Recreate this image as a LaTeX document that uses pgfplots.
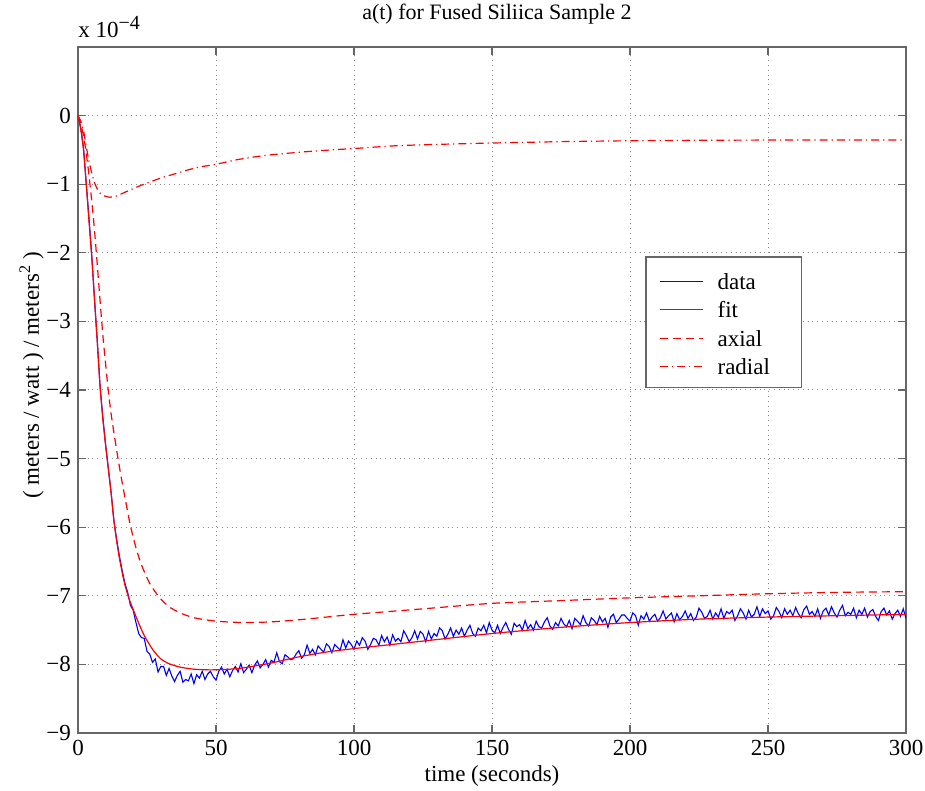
\documentclass[border=0pt]{standalone}
\usepackage{fontspec}
\setmainfont{Liberation Serif}
\usepackage{pgfplots}
\pgfplotsset{compat=1.18}
\usetikzlibrary{calc}
\definecolor{lineblue}{RGB}{0,0,255}
\definecolor{linered}{RGB}{255,0,0}
\begin{document}
\begin{tikzpicture}
\begin{axis}[
  scale only axis, width=414pt, height=343pt,
  xmin=0, xmax=300, ymin=-9, ymax=1,
  xtick={0,50,...,300}, ytick={-9,-8,...,0},
  yticklabels={−9,−8,−7,−6,−5,−4,−3,−2,−1,0},
  tick label style={font=\fontsize{11.5}{13}\selectfont},
  /pgf/number format/assume math mode=true,
  tick align=inside, major tick length=4pt,
  axis line style={black!60, line width=0.6pt},
  every tick/.style={black!60, line width=0.6pt},
  grid=major, grid style={dotted, black!45, line width=0.5pt},
  title={a(t) for Fused Siliica Sample 2},
  title style={font=\fontsize{11}{13}\selectfont, yshift=2pt, xshift=2.5pt},
  xlabel={time (seconds)},
  ylabel={( meters / watt ) / meters\textsuperscript{2} )},
  label style={font=\fontsize{11.5}{13}\selectfont},
  xlabel style={yshift=2pt},
  ylabel style={yshift=-5.5pt, xshift=7.5pt},
]
\coordinate (sw) at (rel axis cs:0,0);
\addplot[lineblue, line width=0.55pt] coordinates {
(0,0)(1,-0.18)(2,-0.47)(3,-1.0)(4,-1.5)(5,-2.05)(6,-2.7)(7,-3.3)(8,-3.95)(9,-4.4)
(10,-4.8)(11,-5.15)(12,-5.5)(13,-5.9)(14,-6.18)(15,-6.42)(16,-6.63)(17,-6.82)
(18,-6.95)(19,-7.14)(20,-7.21)(21,-7.39)(22,-7.55)(23,-7.61)(24,-7.62)(25,-7.81)(26,-7.85)(27,-7.97)
(28,-7.92)(29,-8.11)(30,-8.03)(31,-8.03)(32,-8.16)(33,-8.06)(34,-8.17)(35,-8.25)(36,-8.16)(37,-8.10)
(38,-8.26)(39,-8.22)(40,-8.24)(41,-8.14)(42,-8.28)(43,-8.15)(44,-8.20)(45,-8.10)(46,-8.22)(47,-8.14)
(48,-8.10)(49,-8.18)(50,-8.23)(51,-8.10)(52,-8.04)(53,-8.14)(54,-8.07)(55,-8.18)(56,-8.09)(57,-8.03)
(58,-8.11)(59,-7.99)(60,-8.12)(61,-8.07)(62,-8.01)(63,-8.12)(64,-8.01)(65,-7.95)(66,-8.05)(67,-8.00)
(68,-7.93)(69,-8.04)(70,-7.94)(71,-7.97)(72,-7.83)(73,-7.96)(74,-7.99)(75,-7.86)(76,-7.89)(77,-7.93)
(78,-7.92)(79,-7.85)(80,-7.80)(81,-7.91)(82,-7.86)(83,-7.72)(84,-7.84)(85,-7.78)(86,-7.86)(87,-7.73)
(88,-7.78)(89,-7.82)(90,-7.70)(91,-7.74)(92,-7.83)(93,-7.71)(94,-7.75)(95,-7.79)(96,-7.64)(97,-7.76)
(98,-7.66)(99,-7.71)(100,-7.78)(101,-7.66)(102,-7.72)(103,-7.61)(104,-7.66)(105,-7.78)(106,-7.71)(107,-7.62)
(108,-7.64)(109,-7.72)(110,-7.58)(111,-7.67)(112,-7.60)(113,-7.72)(114,-7.57)(115,-7.66)(116,-7.62)(117,-7.67)
(118,-7.51)(119,-7.58)(120,-7.67)(121,-7.61)(122,-7.51)(123,-7.63)(124,-7.52)(125,-7.56)(126,-7.67)(127,-7.52)
(128,-7.63)(129,-7.55)(130,-7.59)(131,-7.47)(132,-7.51)(133,-7.63)(134,-7.56)(135,-7.47)(136,-7.59)(137,-7.50)
(138,-7.56)(139,-7.47)(140,-7.59)(141,-7.50)(142,-7.43)(143,-7.55)(144,-7.59)(145,-7.47)(146,-7.51)(147,-7.43)
(148,-7.54)(149,-7.39)(150,-7.50)(151,-7.54)(152,-7.43)(153,-7.55)(154,-7.46)(155,-7.39)(156,-7.49)(157,-7.56)
(158,-7.40)(159,-7.45)(160,-7.42)(161,-7.50)(162,-7.36)(163,-7.48)(164,-7.42)(165,-7.50)(166,-7.37)(167,-7.45)
(168,-7.47)(169,-7.38)(170,-7.32)(171,-7.44)(172,-7.49)(173,-7.39)(174,-7.44)(175,-7.33)(176,-7.41)(177,-7.45)
(178,-7.36)(179,-7.48)(180,-7.33)(181,-7.37)(182,-7.42)(183,-7.29)(184,-7.39)(185,-7.44)(186,-7.32)(187,-7.36)
(188,-7.42)(189,-7.30)(190,-7.38)(191,-7.33)(192,-7.46)(193,-7.31)(194,-7.27)(195,-7.39)(196,-7.34)(197,-7.28)
(198,-7.28)(199,-7.33)(200,-7.37)(201,-7.25)(202,-7.29)(203,-7.43)(204,-7.29)(205,-7.34)(206,-7.25)(207,-7.37)
(208,-7.31)(209,-7.27)(210,-7.37)(211,-7.32)(212,-7.22)(213,-7.34)(214,-7.29)(215,-7.25)(216,-7.38)(217,-7.26)
(218,-7.35)(219,-7.30)(220,-7.22)(221,-7.33)(222,-7.26)(223,-7.36)(224,-7.31)(225,-7.18)(226,-7.24)(227,-7.33)
(228,-7.30)(229,-7.21)(230,-7.34)(231,-7.25)(232,-7.31)(233,-7.19)(234,-7.33)(235,-7.23)(236,-7.26)(237,-7.21)
(238,-7.36)(239,-7.29)(240,-7.19)(241,-7.25)(242,-7.34)(243,-7.21)(244,-7.31)(245,-7.27)(246,-7.16)(247,-7.30)
(248,-7.19)(249,-7.26)(250,-7.22)(251,-7.34)(252,-7.29)(253,-7.17)(254,-7.23)(255,-7.32)(256,-7.19)(257,-7.27)
(258,-7.21)(259,-7.29)(260,-7.17)(261,-7.26)(262,-7.32)(263,-7.20)(264,-7.15)(265,-7.27)(266,-7.23)(267,-7.30)
(268,-7.19)(269,-7.33)(270,-7.22)(271,-7.18)(272,-7.28)(273,-7.16)(274,-7.25)(275,-7.31)(276,-7.21)(277,-7.14)
(278,-7.29)(279,-7.24)(280,-7.27)(281,-7.18)(282,-7.32)(283,-7.21)(284,-7.27)(285,-7.18)(286,-7.31)(287,-7.23)
(288,-7.20)(289,-7.30)(290,-7.36)(291,-7.23)(292,-7.18)(293,-7.28)(294,-7.22)(295,-7.34)(296,-7.26)(297,-7.21)
(298,-7.30)(299,-7.19)(300,-7.33)
};
\addplot[linered, line width=0.6pt, smooth, tension=0.4] coordinates {
(0,0)(1,-0.2)(2,-0.5)(3,-1.0)(4,-1.55)(5,-2.07)(6,-2.68)(7,-3.3)(8,-3.95)(9,-4.42)
(10,-4.8)(11,-5.15)(12,-5.5)(13,-5.9)(14,-6.2)(15,-6.45)(16,-6.66)(17,-6.84)(18,-6.98)(19,-7.1)
(20,-7.2)(22,-7.4)(24,-7.58)(27,-7.78)(30,-7.92)(33,-7.99)(37,-8.04)(42,-8.07)(48,-8.08)(55,-8.07)
(60,-8.05)(70,-7.98)(80,-7.89)(90,-7.82)(100,-7.77)(125,-7.66)(150,-7.55)(175,-7.46)(200,-7.39)
(225,-7.34)(250,-7.31)(275,-7.29)(300,-7.27)
};
\addplot[linered, line width=0.6pt, dash pattern=on 4pt off 2.5pt, smooth, tension=0.4] coordinates {
(0,0)(1,-0.12)(2,-0.3)(3,-0.55)(4,-0.88)(5,-1.25)(6,-1.68)(7,-2.18)(8,-2.7)(9,-3.2)
(10,-3.62)(11,-4.02)(12,-4.35)(13,-4.62)(14.5,-5.0)(16,-5.35)(17.5,-5.67)(19,-5.98)(21,-6.3)
(23,-6.55)(26,-6.82)(29.4,-7.02)(33,-7.16)(37,-7.25)(42,-7.32)(50,-7.37)(60,-7.39)(70,-7.38)
(80,-7.35)(90,-7.31)(100,-7.27)(125,-7.19)(150,-7.11)(175,-7.07)(200,-7.03)(225,-7.0)
(250,-6.97)(275,-6.95)(300,-6.94)
};
\addplot[linered, line width=0.6pt, dash pattern=on 4pt off 2pt on 0.6pt off 2pt, smooth, tension=0.4] coordinates {
(0,0)(1,-0.08)(2,-0.22)(3,-0.45)(4,-0.67)(5,-0.84)(6,-0.98)(7,-1.07)(8,-1.13)(9.5,-1.17)
(11.5,-1.19)(14,-1.17)(18,-1.1)(22,-1.03)(26,-0.97)(30,-0.91)(35,-0.85)(40,-0.79)(44,-0.75)
(50,-0.71)(58,-0.64)(68,-0.58)(80,-0.535)(90,-0.505)(100,-0.48)(115,-0.44)(130,-0.42)
(150,-0.40)(175,-0.38)(200,-0.367)(225,-0.36)(250,-0.357)(300,-0.355)
};
% legend: box and texts by hand, sample lines as short plots
\draw[black!60, line width=0.6pt, fill=white] (axis description cs:0.686,0.504) rectangle (axis description cs:0.874,0.694);
\addplot[lineblue, line width=0.55pt, forget plot] coordinates {(210.9,-2.42)(226.5,-2.42)};
\addplot[linered, line width=0.6pt, forget plot] coordinates {(210.9,-2.83)(226.5,-2.83)};
\addplot[linered, line width=0.6pt, dash pattern=on 4pt off 2.5pt, forget plot] coordinates {(210.9,-3.25)(226.5,-3.25)};
\addplot[linered, line width=0.6pt, dash pattern=on 4pt off 2pt on 0.6pt off 2pt, forget plot] coordinates {(210.9,-3.66)(226.5,-3.66)};
\begin{scope}[every node/.style={anchor=west, inner sep=0pt, font=\fontsize{11.5}{13}\selectfont}]
\node at (axis description cs:0.772,0.658) {data};
\node at (axis description cs:0.772,0.617) {fit};
\node at (axis description cs:0.772,0.575) {axial};
\node at (axis description cs:0.772,0.534) {radial};
\end{scope}
\end{axis}
\node[anchor=base west, font=\fontsize{11.5}{13}\selectfont, inner sep=0pt] at ($(sw)+(0pt,347.5pt)$) {x 10\textsuperscript{\fontsize{10}{11}\selectfont −4}};
\pgfresetboundingbox
\path ($(sw)+(-39pt,-29pt)$) rectangle ($(sw)+(423.5pt,366.5pt)$);
\end{tikzpicture}
\end{document}
